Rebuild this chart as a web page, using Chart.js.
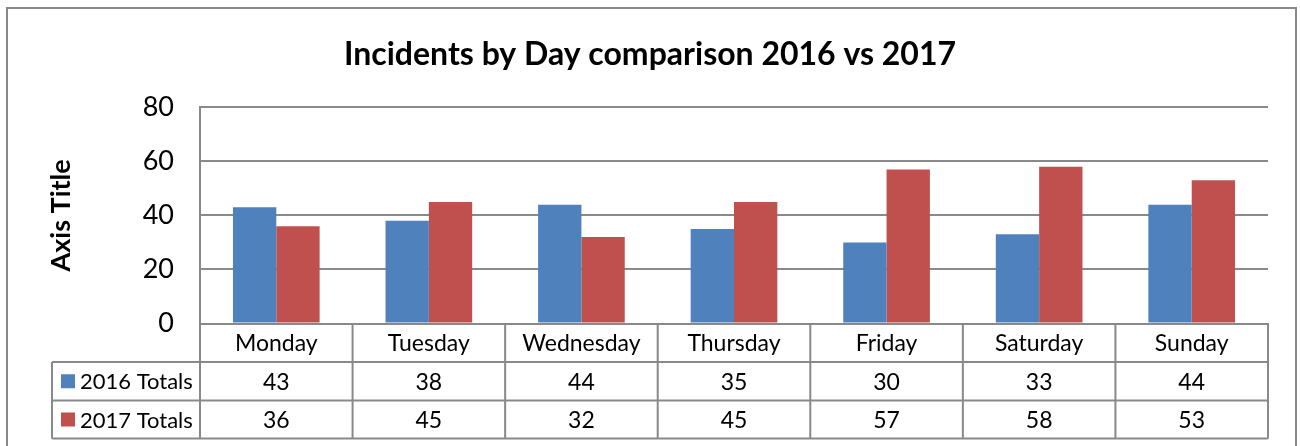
<!DOCTYPE html>
<html>
<head>
<meta charset="utf-8">
<script src="https://cdn.jsdelivr.net/npm/chart.js@4/dist/chart.umd.min.js"></script>
<style>
  html, body { margin: 0; padding: 0; background: #ffffff; }
  #wrap { position: relative; width: 1300px; height: 446px; }
</style>
</head>
<body>
<div id="wrap"><canvas id="c" width="1300" height="446"></canvas></div>
<script>
const categories = ["Monday", "Tuesday", "Wednesday", "Thursday", "Friday", "Saturday", "Sunday"];
const totals2016 = [43, 38, 44, 35, 30, 33, 44];
const totals2017 = [36, 45, 32, 45, 57, 58, 53];
const seriesNames = ["2016 Totals", "2017 Totals"];
const yTicks = [0, 20, 40, 60, 80];

const FONT = "Lato, 'Open Sans', 'DejaVu Sans', sans-serif";
const LINE = "#898989";

const frame = {
  id: 'frame',
  beforeDraw(chart) {
    const ctx = chart.ctx;
    ctx.save();
    ctx.fillStyle = '#ffffff';
    ctx.fillRect(0, 0, chart.width, chart.height);
    ctx.strokeStyle = LINE;
    ctx.lineWidth = 2;
    ctx.beginPath();
    ctx.moveTo(7, 460);
    ctx.lineTo(7, 8);
    ctx.lineTo(1296, 8);
    ctx.lineTo(1296, 460);
    ctx.stroke();
    ctx.restore();
  }
};

const dataTable = {
  id: 'dataTable',
  afterDraw(chart) {
    const ctx = chart.ctx;
    const x = chart.scales.x;
    const area = chart.chartArea;
    const n = categories.length;
    const colW = (x.right - x.left) / n;
    const top = area.bottom;
    const rowH = [38.5, 38.5, 38];
    const r1 = top + rowH[0];
    const r2 = r1 + rowH[1];
    const r3 = r2 + rowH[2];
    const legLeft = 52;
    ctx.save();
    ctx.strokeStyle = LINE;
    ctx.lineWidth = 2;
    ctx.beginPath();
    ctx.moveTo(legLeft, r1); ctx.lineTo(x.right, r1);
    ctx.moveTo(legLeft, r2); ctx.lineTo(x.right, r2);
    ctx.moveTo(legLeft, r3); ctx.lineTo(x.right, r3);
    ctx.moveTo(legLeft, r1); ctx.lineTo(legLeft, r3);
    for (let i = 0; i <= n; i++) {
      const bx = x.left + i * colW;
      ctx.moveTo(bx, top); ctx.lineTo(bx, r3);
    }
    ctx.stroke();

    ctx.fillStyle = '#000000';
    ctx.font = "23px " + FONT;
    ctx.textAlign = 'center';
    ctx.textBaseline = 'middle';
    const rows = [totals2016, totals2017];
    for (let i = 0; i < n; i++) {
      const cx = x.getPixelForValue(i);
      ctx.fillText(categories[i], cx, (top + r1) / 2 + 1);
      ctx.fillText(String(rows[0][i]), cx, (r1 + r2) / 2 + 1);
      ctx.fillText(String(rows[1][i]), cx, (r2 + r3) / 2 + 1);
    }
    const rowMid = [(r1 + r2) / 2, (r2 + r3) / 2];
    ctx.textAlign = 'left';
    ctx.font = "22px " + FONT;
    for (let s = 0; s < 2; s++) {
      const ds = chart.data.datasets[s];
      ctx.fillStyle = ds.backgroundColor;
      ctx.fillRect(61, rowMid[s] - 7, 14, 14);
      ctx.fillStyle = '#000000';
      ctx.fillText(ds.label, 80, rowMid[s] + 1);
    }
    ctx.restore();
  }
};

new Chart(document.getElementById('c'), {
  type: 'bar',
  data: {
    labels: categories,
    datasets: [
      { label: seriesNames[0], data: totals2016, backgroundColor: '#4F81BD', borderWidth: 0 },
      { label: seriesNames[1], data: totals2017, backgroundColor: '#C0504D', borderWidth: 0 }
    ]
  },
  options: {
    responsive: false,
    animation: false,
    devicePixelRatio: 1,
    layout: { padding: { left: 0, right: 0, top: 0, bottom: 122.5 } },
    plugins: {
      legend: { display: false },
      tooltip: { enabled: false },
      title: {
        display: true,
        text: 'Incidents by Day comparison 2016 vs 2017',
        color: '#000000',
        font: { family: FONT, size: 32, weight: 'bold', lineHeight: 1.2 },
        padding: { top: 35, bottom: 34 }
      }
    },
    datasets: { bar: { barPercentage: 1.0, categoryPercentage: 0.568 } },
    scales: {
      x: {
        grid: { display: false },
        border: { display: true, color: LINE, width: 2 },
        ticks: { display: false },
        afterFit(s) { s.height = 0; }
      },
      y: {
        min: 0, max: 80,
        afterBuildTicks(s) { s.ticks = yTicks.map(v => ({ value: v })); },
        grid: { color: LINE, lineWidth: 2, drawTicks: false },
        border: { display: true, color: LINE, width: 2 },
        ticks: { color: '#000000', font: { family: FONT, size: 27 }, padding: 26 },
        title: {
          display: true,
          text: 'Axis Title',
          color: '#000000',
          font: { family: FONT, size: 27, weight: 'bold', lineHeight: 1.2 },
          padding: { top: 45, bottom: 0 }
        },
        afterFit(s) { s.width = 200; }
      },
      yRight: {
        position: 'right',
        min: 0, max: 80,
        grid: { display: false, drawOnChartArea: false },
        border: { display: false },
        ticks: { display: false },
        afterFit(s) { s.width = 32; }
      }
    }
  },
  plugins: [frame, dataTable]
});
</script>
</body>
</html>
